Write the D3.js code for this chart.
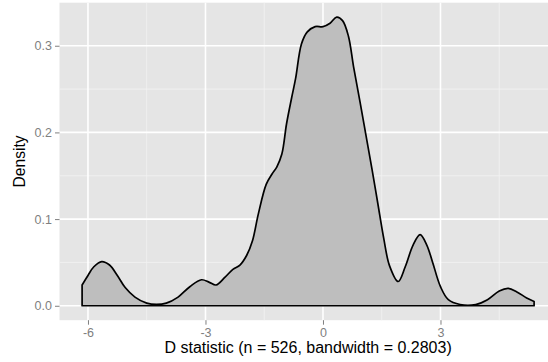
<!DOCTYPE html>
<html>
<head>
<meta charset="utf-8">
<script src="https://cdn.jsdelivr.net/npm/d3@7"></script>
<style>
    body { margin: 0; background: #fff; }
    svg { display: block; font-family: "Liberation Sans", Arial, sans-serif; }
</style>
</head>
<body>
<div id="chart"></div>
<script>
// density estimate
const xs = [-6.15, -6.0, -5.85, -5.65, -5.45, -5.25, -5.05, -4.8, -4.5, -4.25, -4.0, -3.7, -3.4, -3.1,
    -2.9, -2.73, -2.5, -2.3, -2.12, -1.95, -1.8, -1.65, -1.45, -1.3, -1.18, -1.05, -0.93, -0.8,
    -0.7, -0.55, -0.4, -0.2, 0.0, 0.18, 0.35, 0.5, 0.65, 0.78, 0.95, 1.1, 1.25, 1.4, 1.55, 1.7,
    1.92, 2.1, 2.3, 2.48, 2.65, 2.8, 3.0, 3.2, 3.5, 3.9, 4.2, 4.5, 4.73, 4.95, 5.2, 5.39];
const density = [0.024, 0.035, 0.045, 0.051, 0.047, 0.035, 0.021, 0.010, 0.003, 0.0015, 0.003, 0.010, 0.022, 0.030,
    0.027, 0.024, 0.033, 0.042, 0.047, 0.058, 0.075, 0.106, 0.140, 0.152, 0.160, 0.175, 0.210, 0.240,
    0.262, 0.302, 0.316, 0.322, 0.322, 0.326, 0.333, 0.329, 0.311, 0.276, 0.234, 0.196, 0.158, 0.118, 0.078, 0.046,
    0.028, 0.045, 0.070, 0.082, 0.070, 0.050, 0.022, 0.007, 0.0015, 0.0015, 0.007, 0.017, 0.020, 0.016, 0.009, 0.005];

const xMajor = [-6, -3, 0, 3];
const xMinor = [-4.5, -1.5, 1.5, 4.5];
const yMajor = [0, 0.1, 0.2, 0.3];
const yMinor = [0.05, 0.15, 0.25];

const width = 548, height = 362;
const panel = {left: 59.5, right: 556.7, top: 2.7, bottom: 320.2};

const svg = d3.select('#chart')
    .append('svg')
    .attr('width', width)
    .attr('height', height);

// ggplot style 5% expansion of the data range
const xExt = d3.extent(xs);
const xPad = (xExt[1] - xExt[0]) * 0.05;
const yMax = d3.max(density);
const x = d3.scaleLinear().domain([xExt[0] - xPad, xExt[1] + xPad]).range([panel.left, panel.right]);
const y = d3.scaleLinear().domain([-yMax * 0.05, yMax * 1.05]).range([panel.bottom, panel.top]);

svg.append('rect')
    .attr('x', panel.left)
    .attr('y', panel.top)
    .attr('width', panel.right - panel.left)
    .attr('height', panel.bottom - panel.top)
    .attr('fill', '#e5e5e5');

const grid = svg.append('g');
grid.selectAll('.xminor').data(xMinor).enter().append('line')
    .attr('x1', d => x(d)).attr('x2', d => x(d))
    .attr('y1', panel.top).attr('y2', panel.bottom)
    .attr('stroke', '#f2f2f2').attr('stroke-width', 0.8);
grid.selectAll('.yminor').data(yMinor).enter().append('line')
    .attr('x1', panel.left).attr('x2', panel.right)
    .attr('y1', d => y(d)).attr('y2', d => y(d))
    .attr('stroke', '#f2f2f2').attr('stroke-width', 0.8);
grid.selectAll('.xmajor').data(xMajor).enter().append('line')
    .attr('x1', d => x(d)).attr('x2', d => x(d))
    .attr('y1', panel.top).attr('y2', panel.bottom)
    .attr('stroke', '#fff').attr('stroke-width', 1.6);
grid.selectAll('.ymajor').data(yMajor).enter().append('line')
    .attr('x1', panel.left).attr('x2', panel.right)
    .attr('y1', d => y(d)).attr('y2', d => y(d))
    .attr('stroke', '#fff').attr('stroke-width', 1.6);

// closed polygon like geom_density: down to zero at both ends
const pts = xs.map((d, i) => [d, density[i]]);
const curve = d3.line()
    .x(d => x(d[0]))
    .y(d => y(d[1]))
    .curve(d3.curveCatmullRom.alpha(0.5))(pts);
const first = xs[0], last = xs[xs.length - 1];
const shape = `M${x(first)},${y(0)}L${curve.slice(1)}L${x(last)},${y(0)}Z`;

svg.append('path')
    .attr('d', shape)
    .attr('fill', '#bebebe')
    .attr('stroke', '#000')
    .attr('stroke-width', 1.7)
    .attr('stroke-linejoin', 'round');

// axes
const xAxis = d3.axisBottom(x).tickValues(xMajor).tickSize(4.5).tickPadding(3).tickFormat(d3.format('d'));
const yAxis = d3.axisLeft(y).tickValues(yMajor).tickSize(4.5).tickPadding(3).tickFormat(d3.format('.1f'));

const gx = svg.append('g').attr('transform', `translate(0,${panel.bottom})`).call(xAxis);
const gy = svg.append('g').attr('transform', `translate(${panel.left},0)`).call(yAxis);
[gx, gy].forEach(g => {
    g.select('.domain').remove();
    g.selectAll('line').attr('stroke', '#7f7f7f').attr('stroke-width', 1);
    g.selectAll('text').attr('fill', '#7f7f7f').style('font-size', '12.5px')
        .style('font-family', '"Liberation Sans", Arial, sans-serif');
});
gx.selectAll('text').text(d => d < 0 ? '-' + Math.abs(d) : d);

svg.append('text')
    .attr('x', (panel.left + panel.right) / 2)
    .attr('y', 353)
    .attr('text-anchor', 'middle')
    .style('font-size', '16px')
    .text('D statistic (n = 526, bandwidth = 0.2803)');

svg.append('text')
    .attr('transform', `translate(25,${(panel.top + panel.bottom) / 2}) rotate(-90)`)
    .attr('text-anchor', 'middle')
    .style('font-size', '15.6px')
    .text('Density');
</script>
</body>
</html>
